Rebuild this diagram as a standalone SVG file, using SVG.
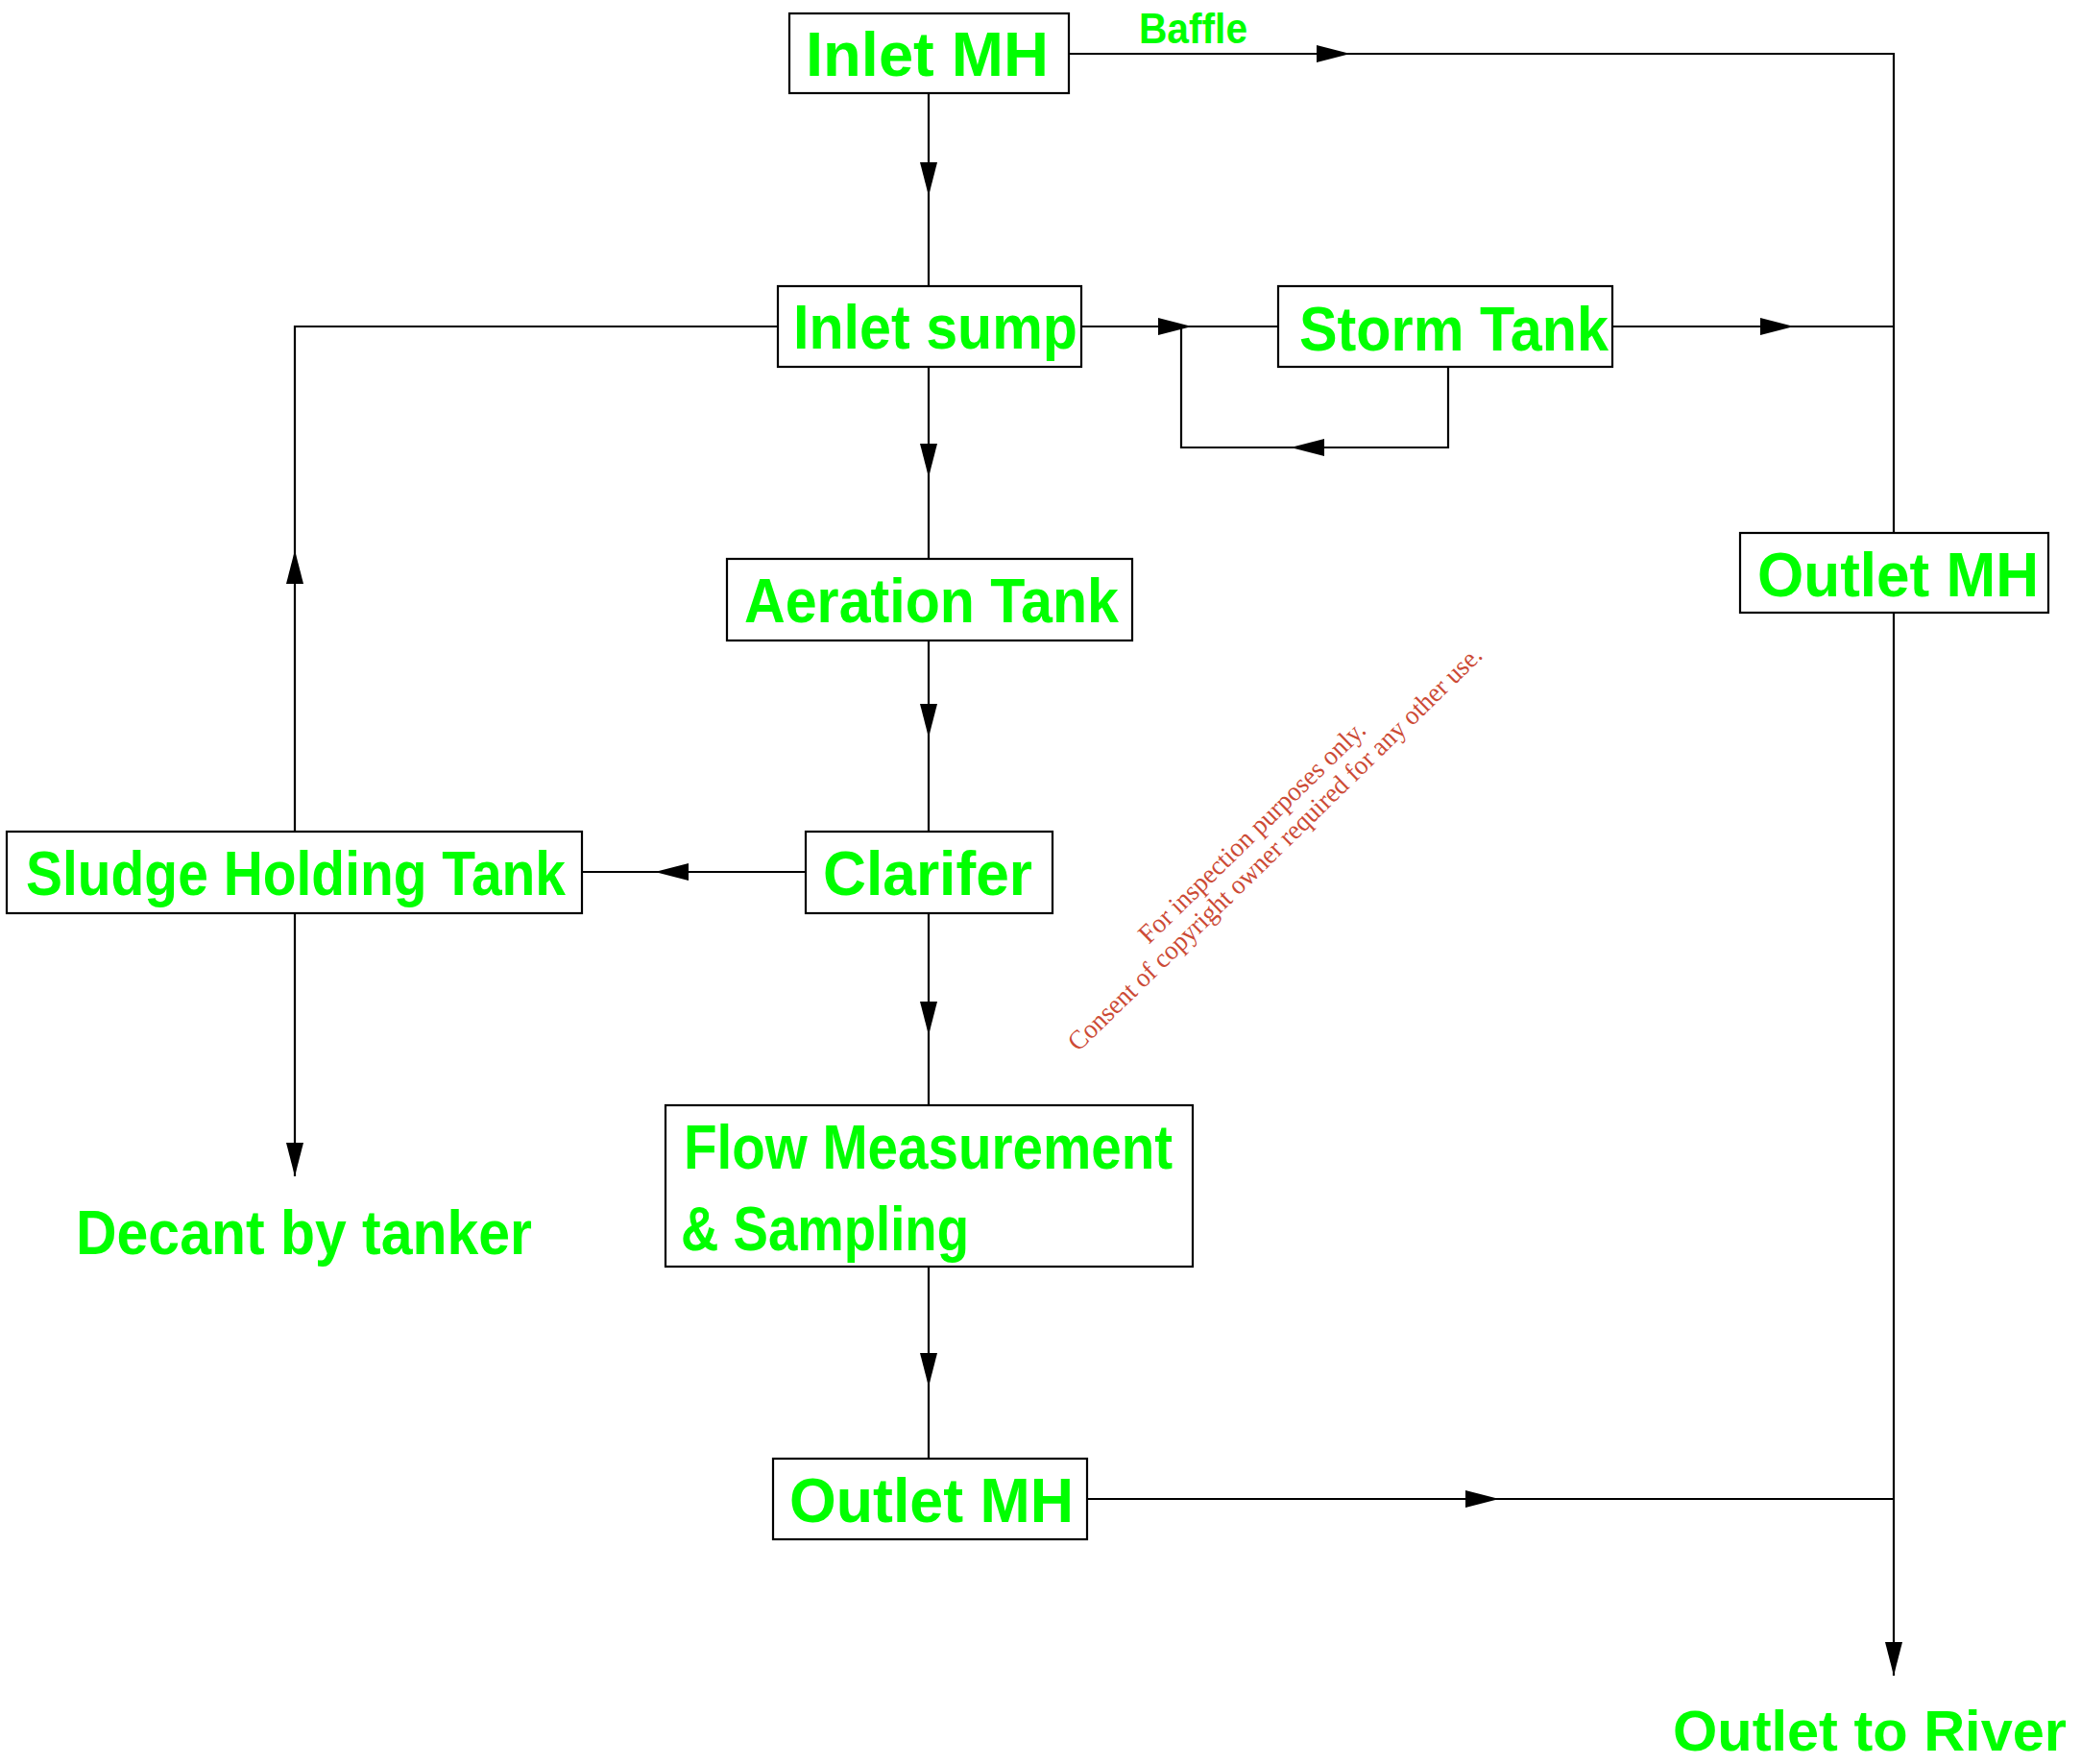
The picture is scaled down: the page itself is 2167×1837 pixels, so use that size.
<svg xmlns="http://www.w3.org/2000/svg" xmlns:xlink="http://www.w3.org/1999/xlink" width="2167" height="1837" viewBox="0 0 2167 1837">
<style>
.box{fill:#fff;stroke:#000;stroke-width:2.2}
.ln{fill:none;stroke:#000;stroke-width:2.2}
.lbl{font-family:"Liberation Sans","DejaVu Sans",sans-serif;font-weight:bold;font-size:64px;fill:#00ff00}
.wm{font-family:"Liberation Serif","DejaVu Serif",serif;font-size:28px;fill:#cc4a35}
</style>
<defs>
<path id="ah" d="M0,0 L-35,-9 L-35,9 Z" fill="#000"/>
</defs>
<rect width="2167" height="1837" fill="#fff"/>
<g id="connectors">
<path class="ln" d="M1113,56 H1972 V555"/>
<path class="ln" d="M1972,638 V1745"/>
<path class="ln" d="M967,97 V298"/>
<path class="ln" d="M967,382 V582"/>
<path class="ln" d="M967,667 V866"/>
<path class="ln" d="M967,951 V1151"/>
<path class="ln" d="M967,1319 V1519"/>
<path class="ln" d="M810,340 H307 V866"/>
<path class="ln" d="M307,951 V1225"/>
<path class="ln" d="M1126,340 H1331"/>
<path class="ln" d="M1679,340 H1972"/>
<path class="ln" d="M1508,382 V466 H1230 V340"/>
<path class="ln" d="M839,908 H606"/>
<path class="ln" d="M1132,1561 H1972"/>
<use xlink:href="#ah" transform="translate(1406,56)"/>
<use xlink:href="#ah" transform="translate(967,204) rotate(90)"/>
<use xlink:href="#ah" transform="translate(1241,340)"/>
<use xlink:href="#ah" transform="translate(1344,466) rotate(180)"/>
<use xlink:href="#ah" transform="translate(1868,340)"/>
<use xlink:href="#ah" transform="translate(307,573) rotate(-90)"/>
<use xlink:href="#ah" transform="translate(967,497) rotate(90)"/>
<use xlink:href="#ah" transform="translate(967,768) rotate(90)"/>
<use xlink:href="#ah" transform="translate(682,908) rotate(180)"/>
<use xlink:href="#ah" transform="translate(307,1225) rotate(90)"/>
<use xlink:href="#ah" transform="translate(967,1078) rotate(90)"/>
<use xlink:href="#ah" transform="translate(967,1444) rotate(90)"/>
<use xlink:href="#ah" transform="translate(1561,1561)"/>
<use xlink:href="#ah" transform="translate(1972,1745) rotate(90)"/>
</g>
<g id="inlet-mh"><rect class="box" x="822" y="14" width="291" height="83"/><text class="lbl" x="839" y="79" textLength="253" lengthAdjust="spacingAndGlyphs">Inlet MH</text></g>
<g id="baffle"><text class="lbl" style="font-size:44px" x="1186" y="45" textLength="113" lengthAdjust="spacingAndGlyphs">Baffle</text></g>
<g id="inlet-sump"><rect class="box" x="810" y="298" width="316" height="84"/><text class="lbl" x="826" y="363" textLength="296" lengthAdjust="spacingAndGlyphs">Inlet sump</text></g>
<g id="storm-tank"><rect class="box" x="1331" y="298" width="348" height="84"/><text class="lbl" x="1353" y="365" textLength="322" lengthAdjust="spacingAndGlyphs">Storm Tank</text></g>
<g id="outlet-mh-right"><rect class="box" x="1812" y="555" width="321" height="83"/><text class="lbl" x="1830" y="621" textLength="293" lengthAdjust="spacingAndGlyphs">Outlet MH</text></g>
<g id="aeration-tank"><rect class="box" x="757" y="582" width="422" height="85"/><text class="lbl" x="775" y="648" textLength="390" lengthAdjust="spacingAndGlyphs">Aeration Tank</text></g>
<g id="sludge-holding-tank"><rect class="box" x="7" y="866" width="599" height="85"/><text class="lbl" x="27" y="932" textLength="562" lengthAdjust="spacingAndGlyphs">Sludge Holding Tank</text></g>
<g id="clarifer"><rect class="box" x="839" y="866" width="257" height="85"/><text class="lbl" x="857" y="932" textLength="218" lengthAdjust="spacingAndGlyphs">Clarifer</text></g>
<g id="flow-measurement"><rect class="box" x="693" y="1151" width="549" height="168"/><text class="lbl" x="712" y="1217" textLength="509" lengthAdjust="spacingAndGlyphs">Flow Measurement</text><text class="lbl" x="709" y="1302" textLength="300" lengthAdjust="spacingAndGlyphs">&amp; Sampling</text></g>
<g id="decant"><text class="lbl" x="79" y="1306" textLength="475" lengthAdjust="spacingAndGlyphs">Decant by tanker</text></g>
<g id="outlet-mh-bottom"><rect class="box" x="805" y="1519" width="327" height="84"/><text class="lbl" x="822" y="1585" textLength="296" lengthAdjust="spacingAndGlyphs">Outlet MH</text></g>
<g id="outlet-to-river"><text class="lbl" style="font-size:60px" x="1742" y="1823" textLength="410" lengthAdjust="spacingAndGlyphs">Outlet to River</text></g>
<g id="watermark">
<text class="wm" text-anchor="middle" transform="translate(1310,873) rotate(-44.3)" textLength="318" lengthAdjust="spacingAndGlyphs">For inspection purposes only.</text>
<text class="wm" text-anchor="middle" transform="translate(1334,890) rotate(-44.3)" textLength="590" lengthAdjust="spacingAndGlyphs">Consent of copyright owner required for any other use.</text>
</g>
</svg>
